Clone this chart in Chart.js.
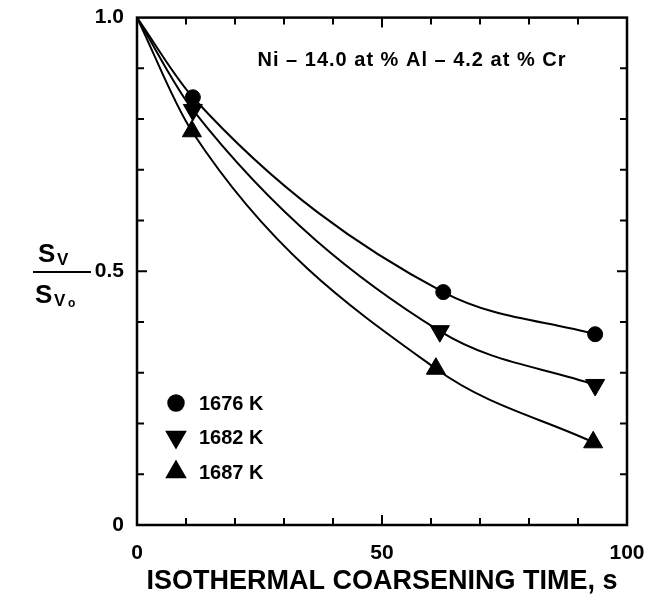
<!DOCTYPE html>
<html>
<head>
<meta charset="utf-8">
<script src="https://cdn.jsdelivr.net/npm/chart.js@4.4.1/dist/chart.umd.min.js"></script>
<style>
  html, body { margin: 0; padding: 0; background: #fff; }
  #wrap { width: 660px; height: 602px; }
</style>
</head>
<body>
<div id="wrap"><canvas id="coarsening"></canvas></div>
<script>
// values
const labels1676 = "1676 K";
const labels1682 = "1682 K";
const labels1687 = "1687 K";

const time1676 = [0, 11.4, 62.5, 93.5];
const sv1676 = [1.0, 0.843, 0.459, 0.376];

const time1682 = [0, 11.4, 61.8, 93.5];
const sv1682 = [1.0, 0.818, 0.382, 0.276];

const time1687 = [0, 11.2, 61.0, 93.1];
const sv1687 = [1.0, 0.776, 0.308, 0.163];

const xTicks = [0, 50, 100];
const yTicks = [0, 0.5, 1.0];

const FONT = "'Liberation Sans', 'DejaVu Sans', sans-serif";

function toPoints(xs, ys) {
    return xs.map((x, i) => ({ x: x, y: ys[i] }));
}

function series(label, xs, ys, style, rot, radius) {
    return {
        label: label,
        data: toPoints(xs, ys),
        borderColor: "#000",
        backgroundColor: "#000",
        borderWidth: 2,
        pointStyle: style,
        rotation: rot,
        // first point (0, 1.0) is just the curve's origin, no marker
        pointRadius: ys.map((v, i) => i === 0 ? 0 : radius),
        pointBorderWidth: 1,
        cubicInterpolationMode: "monotone",
        fill: false
    };
}

const datasets = [
    series(labels1676, time1676, sv1676, "circle", 0, 7.5),
    series(labels1682, time1682, sv1682, "triangle", 180, 11),
    series(labels1687, time1687, sv1687, "triangle", 0, 11)
];

// frame, inward ticks, inside legend, composition note, y-axis fraction label
const decorations = {
    id: "decorations",
    afterDraw(chart) {
        const ctx = chart.ctx;
        const a = chart.chartArea;
        const xs = chart.scales.x;
        const ys = chart.scales.y;
        ctx.save();
        ctx.strokeStyle = "#000";
        ctx.fillStyle = "#000";

        // ticks every 10 s and every 0.1
        ctx.lineWidth = 2;
        for (let v = 10; v < 100; v += 10) {
            const px = xs.getPixelForValue(v);
            const len = v === 50 ? 10 : 7;
            ctx.beginPath();
            ctx.moveTo(px, a.bottom); ctx.lineTo(px, a.bottom - len);
            ctx.moveTo(px, a.top); ctx.lineTo(px, a.top + len);
            ctx.stroke();
        }
        for (let k = 1; k < 10; k++) {
            const py = ys.getPixelForValue(k / 10);
            const len = k === 5 ? 10 : 7;
            ctx.beginPath();
            ctx.moveTo(a.left, py); ctx.lineTo(a.left + len, py);
            ctx.moveTo(a.right, py); ctx.lineTo(a.right - len, py);
            ctx.stroke();
        }

        // frame
        ctx.lineWidth = 2.5;
        ctx.strokeRect(a.left, a.top, a.right - a.left, a.bottom - a.top);

        // composition note
        ctx.font = "bold 20px " + FONT;
        ctx.letterSpacing = "1px";
        ctx.textAlign = "center";
        ctx.textBaseline = "middle";
        ctx.fillText("Ni \u2013 14.0 at % Al \u2013 4.2 at % Cr", 412, 60);
        ctx.letterSpacing = "0px";

        // legend inside the plot
        const items = [
            { ds: 0, y: 403 },
            { ds: 1, y: 437 },
            { ds: 2, y: 472 }
        ];
        items.forEach(it => {
            const d = chart.data.datasets[it.ds];
            const r = it.ds === 0 ? 7.5 : 10;
            Chart.helpers.drawPoint(ctx, {
                pointStyle: d.pointStyle,
                rotation: d.rotation,
                radius: r,
                borderWidth: 1
            }, 176, it.y);
            ctx.fill();
            ctx.font = "bold 20px " + FONT;
            ctx.textAlign = "left";
            ctx.fillText(d.label, 199, it.y + 1);
        });

        // y-axis label: S_V / S_Vo
        const cx = 62;
        ctx.textAlign = "left";
        ctx.textBaseline = "alphabetic";
        ctx.font = "bold 26px " + FONT;
        ctx.fillText("S", 38, 262);
        ctx.fillText("S", 35, 303);
        ctx.font = "bold 17px " + FONT;
        ctx.fillText("V", 57, 265);
        ctx.fillText("V", 54, 306);
        ctx.font = "bold 12px " + FONT;
        ctx.fillText("o", 68, 307);
        ctx.lineWidth = 2;
        ctx.beginPath();
        ctx.moveTo(cx - 29, 272); ctx.lineTo(cx + 29, 272);
        ctx.stroke();

        ctx.restore();
    }
};

new Chart(document.getElementById("coarsening"), {
    type: "line",
    data: { datasets: datasets },
    options: {
        responsive: true,
        maintainAspectRatio: false,
        animation: false,
        layout: { padding: { top: 15, right: 33, bottom: 4, left: 0 } },
        plugins: {
            legend: { display: false },
            tooltip: { enabled: false }
        },
        scales: {
            x: {
                type: "linear",
                min: 0,
                max: 100,
                afterBuildTicks: s => { s.ticks = xTicks.map(v => ({ value: v })); },
                afterFit: s => { s.height = 73; },
                grid: { display: false },
                border: { display: false },
                ticks: {
                    color: "#000",
                    padding: 8,
                    font: { family: FONT, size: 21, weight: "bold" },
                    callback: v => String(v)
                },
                title: {
                    display: true,
                    text: "ISOTHERMAL COARSENING TIME, s",
                    color: "#000",
                    padding: 0,
                    font: { family: FONT, size: 27, weight: "bold" }
                }
            },
            y: {
                type: "linear",
                min: 0,
                max: 1,
                afterBuildTicks: s => { s.ticks = yTicks.map(v => ({ value: v })); },
                afterFit: s => { s.width = 137; },
                grid: { display: false },
                border: { display: false },
                ticks: {
                    color: "#000",
                    padding: 5,
                    font: { family: FONT, size: 21, weight: "bold" },
                    callback: v => v === 0 ? "0" : v.toFixed(1)
                }
            }
        }
    },
    plugins: [decorations]
});
</script>
</body>
</html>
